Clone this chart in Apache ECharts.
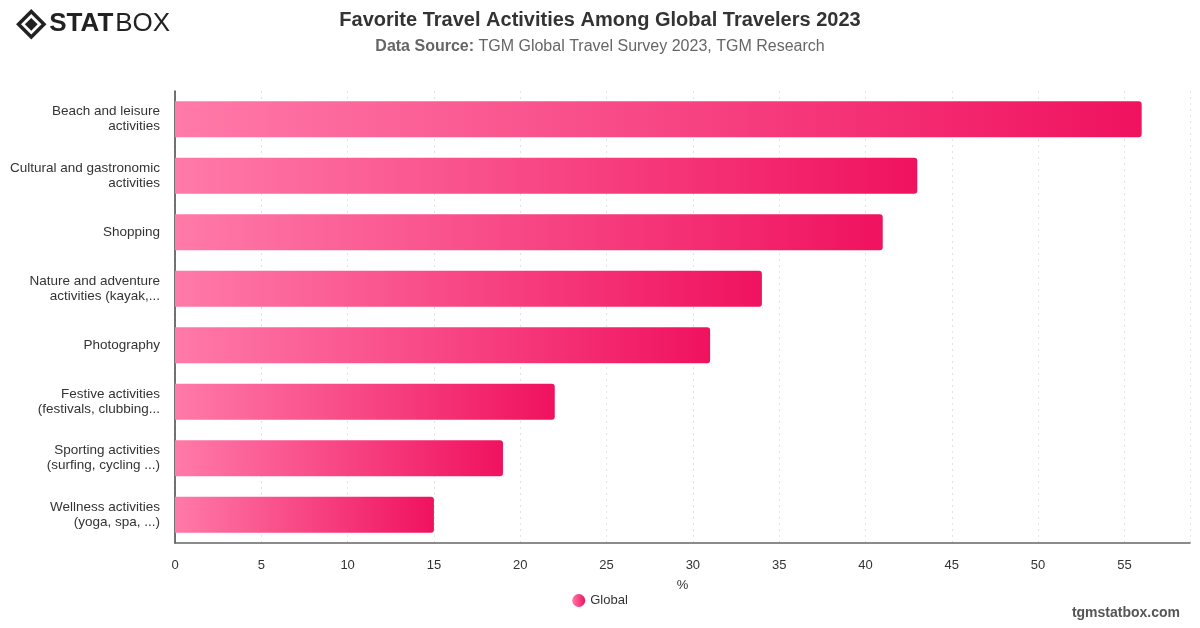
<!DOCTYPE html>
<html>
<head>
<meta charset="utf-8">
<script src="https://cdn.jsdelivr.net/npm/echarts@6/dist/echarts.min.js"></script>
<style>
  html, body { margin: 0; padding: 0; background: #fff; }
  #chart { width: 1200px; height: 628px; }
</style>
</head>
<body>
<div id="chart"></div>
<script>
const categories = [
  'Beach and leisure\nactivities',
  'Cultural and gastronomic\nactivities',
  'Shopping',
  'Nature and adventure\nactivities (kayak,...',
  'Photography',
  'Festive activities\n(festivals, clubbing...',
  'Sporting activities\n(surfing, cycling ...)',
  'Wellness activities\n(yoga, spa, ...)'
]
const globalValues = [56, 43, 41, 34, 31, 22, 19, 15]
const xTicks = [0, 5, 10, 15, 20, 25, 30, 35, 40, 45, 50, 55]

const chart = echarts.init(document.getElementById('chart'))
const font = 'Helvetica, Arial, "Liberation Sans", sans-serif'

chart.setOption({
  backgroundColor: '#fff',
  textStyle: { fontFamily: font },
  title: {
    text: 'Favorite Travel Activities Among Global Travelers 2023',
    subtext: '{b|Data Source:} TGM Global Travel Survey 2023, TGM Research',
    left: 'center',
    top: 5,
    itemGap: 9,
    textStyle: { fontSize: 20, fontWeight: 'bold', color: '#333', fontFamily: font },
    subtextStyle: {
      fontSize: 16, color: '#666', fontFamily: font,
      rich: { b: { fontSize: 16, fontWeight: 'bold', color: '#666', fontFamily: font } }
    }
  },
  graphic: [
    {
      type: 'group', left: 15, top: 8,
      children: [
        { type: 'rect', shape: { x: -9, y: -9, width: 18, height: 18 }, x: 14, y: 14, rotation: Math.PI / 4,
          style: { fill: 'none', stroke: '#222', lineWidth: 3.5 } },
        { type: 'rect', shape: { x: -4.5, y: -4.5, width: 9, height: 9 }, x: 14, y: 14, rotation: Math.PI / 4,
          style: { fill: '#222' } },
        { type: 'text', x: 32, y: 1,
          style: { text: 'STAT', fontSize: 26, fontWeight: 900, fill: '#222', fontFamily: font } },
        { type: 'text', x: 98, y: 1,
          style: { text: 'BOX', fontSize: 26, fontWeight: 'normal', fill: '#222', fontFamily: font } }
      ]
    },
    {
      type: 'text', right: 20, bottom: 8,
      style: { text: 'tgmstatbox.com', fontSize: 14, fontWeight: 'bold', fill: '#555', fontFamily: font }
    }
  ],
  legend: {
    bottom: 16,
    left: 'center',
    icon: 'circle',
    itemWidth: 13,
    itemHeight: 13,
    textStyle: { fontSize: 13, color: '#333' },
    data: ['Global']
  },
  grid: { left: 175, right: 10, top: 91, bottom: 85, containLabel: false },
  xAxis: {
    type: 'value',
    min: 0,
    max: 58.8,
    interval: 5,
    name: '%',
    nameLocation: 'middle',
    nameGap: 36,
    nameTextStyle: { fontSize: 13, color: '#333' },
    axisLine: { show: true, lineStyle: { color: '#666', width: 1.5 } },
    axisTick: { show: false },
    axisLabel: {
      fontSize: 13, color: '#333', margin: 16,
      formatter: v => (xTicks.indexOf(v) >= 0 ? String(v) : '')
    },
    splitLine: { show: true, lineStyle: { color: '#e3e3e3', type: [2, 4] } }
  },
  yAxis: {
    type: 'category',
    inverse: true,
    data: categories,
    axisLine: { show: true, lineStyle: { color: '#444', width: 1.5 } },
    axisTick: { show: false },
    axisLabel: { fontSize: 13.5, color: '#333', lineHeight: 15, margin: 15, align: 'right' },
    splitLine: { show: false }
  },
  series: [
    {
      name: 'Global',
      type: 'bar',
      data: globalValues,
      barWidth: 36,
      itemStyle: {
        borderRadius: [0, 3, 3, 0],
        color: new echarts.graphic.LinearGradient(0, 0, 1, 0, [
          { offset: 0, color: '#ff7aa8' },
          { offset: 1, color: '#f0125f' }
        ])
      }
    }
  ]
})
</script>
</body>
</html>
